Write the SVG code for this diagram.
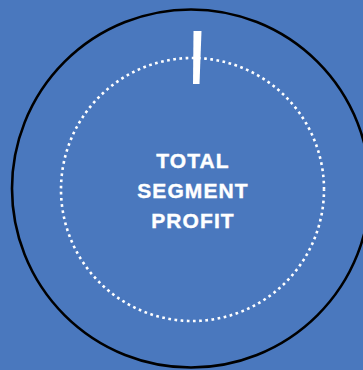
<svg xmlns="http://www.w3.org/2000/svg" width="363" height="370" viewBox="0 0 363 370">
  <style>
    .label { font-family: "Liberation Sans", Arial, sans-serif; font-weight: bold; font-size: 21px; fill: #ffffff; text-anchor: middle; letter-spacing: 1.1px; stroke: #ffffff; stroke-width: 0.4px; }
  </style>
  <rect x="0" y="0" width="363" height="370" fill="#4a78be"/>
  <g id="outer-ring">
    <circle cx="191" cy="188.5" r="179" fill="none" stroke="#000000" stroke-width="2.6"/>
  </g>
  <g id="inner-ring">
    <circle cx="192.5" cy="189.5" r="131.5" fill="none" stroke="#ffffff" stroke-width="2.6" stroke-linecap="square" stroke-dasharray="0.1 6.1"/>
  </g>
  <g id="marker">
    <polygon points="193.5,31 201.5,31 199.5,84 193,84" fill="#ffffff"/>
  </g>
  <g id="center-label">
    <text class="label" x="193" y="168">TOTAL</text>
    <text class="label" x="193" y="198">SEGMENT</text>
    <text class="label" x="193" y="228">PROFIT</text>
  </g>
</svg>
